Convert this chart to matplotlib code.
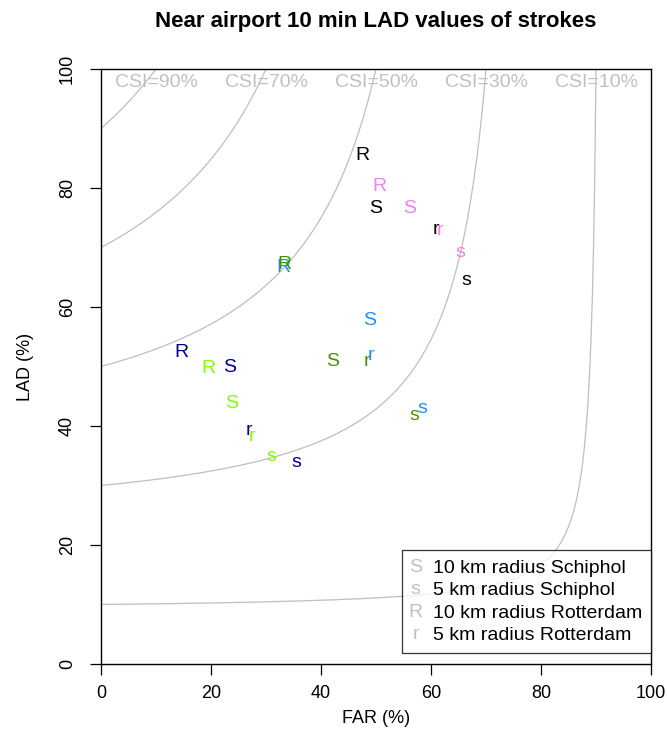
import matplotlib.pyplot as plt
import matplotlib.text as mtext
from matplotlib.legend_handler import HandlerBase
import numpy as np

plt.rcParams['font.family'] = ['Liberation Sans', 'DejaVu Sans']

# FAR / LAD (%) per group, letters: S=10 km Schiphol, s=5 km Schiphol, R=10 km Rotterdam, r=5 km Rotterdam
letters = ['S', 's', 'R', 'r']
colors = ['black', 'violet', 'dodgerblue', '#4A9300', '#00008B', '#7FFF00']
far = [
    [50.0, 66.4, 47.6, 60.9],
    [56.2, 65.3, 50.7, 61.6],
    [48.9, 58.4, 33.1, 49.1],
    [42.2, 56.9, 33.3, 48.4],
    [23.3, 35.6, 14.7, 26.9],
    [23.8, 30.9, 19.6, 27.5],
]
lad = [
    [76.6, 64.4, 85.4, 73.1],
    [76.5, 69.1, 80.3, 72.9],
    [57.8, 43.0, 66.6, 51.8],
    [50.9, 41.8, 67.1, 50.9],
    [49.9, 33.8, 52.3, 39.2],
    [43.7, 34.8, 49.6, 38.3],
]
csi_levels = [90, 70, 50, 30, 10]
legend_labels = ['10 km radius Schiphol', '5 km radius Schiphol',
                 '10 km radius Rotterdam', '5 km radius Rotterdam']

FS = 14


class LetterHandler(HandlerBase):
    # draws the legend key as a grey letter
    def create_artists(self, legend, orig_handle, xdescent, ydescent,
                       width, height, fontsize, trans):
        t = mtext.Text(-xdescent + width / 2, -ydescent + height / 2 - 1,
                       orig_handle.get_text(), color='#C0C0C0',
                       fontsize=fontsize, ha='center', va='center',
                       transform=trans)
        return [t]


fig = plt.figure(figsize=(6.67, 7.56), dpi=100)
ax = fig.add_axes([101/667, 92/756, 550/667, 595/756])

# CSI isolines: 1/CSI = 1/POD + 1/(1-FAR) - 1
for c in csi_levels:
    cs = c / 100
    f = np.linspace(0, 1 - cs, 400)
    pod = 1 / (1 / cs - 1 / (1 - f) + 1)
    ax.plot(f * 100, pod * 100, color='#BEBEBE', lw=0.9)
    ax.text(100 - c, 97.8, 'CSI=%d%%' % c, color='#C0C0C0', fontsize=FS,
            ha='center', va='center')

for col, fx, ly in zip(colors, far, lad):
    for l, x, y in zip(letters, fx, ly):
        ax.text(x, y, l, color=col, fontsize=FS, ha='center', va='center')

ax.set_xlim(0, 100)
ax.set_ylim(0, 100)
ax.set_xticks(range(0, 101, 20))
ax.set_yticks(range(0, 101, 20))
ax.tick_params(labelsize=13, length=8, width=0.9)
ax.tick_params(axis='x', pad=7)
ax.tick_params(axis='y', pad=10)
for t in ax.get_yticklabels():
    t.set_rotation(90)
    t.set_va('center')
for s in ax.spines.values():
    s.set_linewidth(1.0)
ax.set_xlabel('FAR (%)', fontsize=13, labelpad=6)
ax.set_ylabel('LAD (%)', fontsize=13, labelpad=18)
ax.set_title('Near airport 10 min LAD values of strokes', fontsize=16,
             fontweight='bold', pad=30)

handles = [mtext.Text(text=l) for l in letters]
leg = ax.legend(handles, legend_labels, loc='lower right',
                bbox_to_anchor=(1, 11/595), fontsize=FS,
                handler_map={mtext.Text: LetterHandler()},
                frameon=True, fancybox=False, edgecolor='black',
                borderaxespad=0, handletextpad=0.65, labelspacing=0.25,
                handlelength=0.5, borderpad=0.45)
leg.get_frame().set_linewidth(0.9)

fig.savefig('out.png', dpi=100)
